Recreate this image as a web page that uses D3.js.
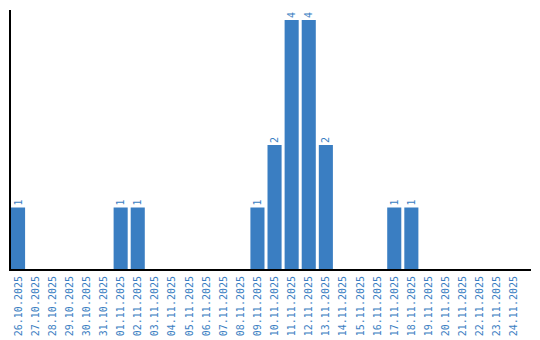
<!DOCTYPE html>
<html>
<head>
<meta charset="utf-8">
<script src="https://cdn.jsdelivr.net/npm/d3@7"></script>
<style>
body { margin: 0; background: #fff; }
text { font-family: "DejaVu Sans Mono", monospace; font-size: 10px; fill: #3a7ec2; }
</style>
</head>
<body>
<div id="content"></div>
<script>
// daily counts
var dates = ["26.10.2025", "27.10.2025", "28.10.2025", "29.10.2025", "30.10.2025", "31.10.2025",
    "01.11.2025", "02.11.2025", "03.11.2025", "04.11.2025", "05.11.2025", "06.11.2025",
    "07.11.2025", "08.11.2025", "09.11.2025", "10.11.2025", "11.11.2025", "12.11.2025",
    "13.11.2025", "14.11.2025", "15.11.2025", "16.11.2025", "17.11.2025", "18.11.2025",
    "19.11.2025", "20.11.2025", "21.11.2025", "22.11.2025", "23.11.2025", "24.11.2025"];
var counts = [1, 0, 0, 0, 0, 0, 1, 1, 0, 0, 0, 0, 0, 0, 1, 2, 4, 4, 2, 0, 0, 0, 1, 1, 0, 0, 0, 0, 0, 0];

var w = 540,
    h = 340,
    left = 11,
    base = 270;

var svg = d3.select("#content")
    .append("svg")
    .attr("width", w)
    .attr("height", h);

var x = d3.scaleBand()
    .domain(dates)
    .range([left, left + dates.length * 17])
    .paddingInner(3 / 17)
    .paddingOuter(0)
    .align(0);

var y = d3.scaleLinear()
    .domain([0, 4])
    .range([base, 20]);

svg.selectAll("rect.bar")
    .data(counts)
    .enter()
    .append("rect")
    .attr("class", "bar")
    .attr("x", function(d, i) { return x(dates[i]); })
    .attr("y", function(d) { return y(d); })
    .attr("width", x.bandwidth())
    .attr("height", function(d) { return base - y(d); })
    .attr("fill", "#3a7ec2");

// value labels, only on non-empty days
svg.selectAll("text.val")
    .data(counts.map(function(d, i) { return {v: d, day: dates[i]}; }).filter(function(d) { return d.v > 0; }))
    .enter()
    .append("text")
    .attr("class", "val")
    .attr("transform", function(d) {
        return "translate(" + (x(d.day) + x.bandwidth() / 2 + 3.5) + "," + (y(d.v) - 2) + ") rotate(-90)";
    })
    .text(function(d) { return d.v; });

// date labels
svg.selectAll("text.day")
    .data(dates)
    .enter()
    .append("text")
    .attr("class", "day")
    .attr("text-anchor", "end")
    .attr("transform", function(d) {
        return "translate(" + (x(d) + x.bandwidth() / 2 + 3.5) + "," + (base + 6) + ") rotate(-90)";
    })
    .text(function(d) { return d; });

// axes
svg.append("line")
    .attr("x1", 10).attr("x2", 10)
    .attr("y1", 10).attr("y2", base + 1)
    .attr("stroke", "#000").attr("stroke-width", 2);
svg.append("line")
    .attr("x1", 10).attr("x2", 531)
    .attr("y1", base).attr("y2", base)
    .attr("stroke", "#000").attr("stroke-width", 2);
</script>
</body>
</html>
